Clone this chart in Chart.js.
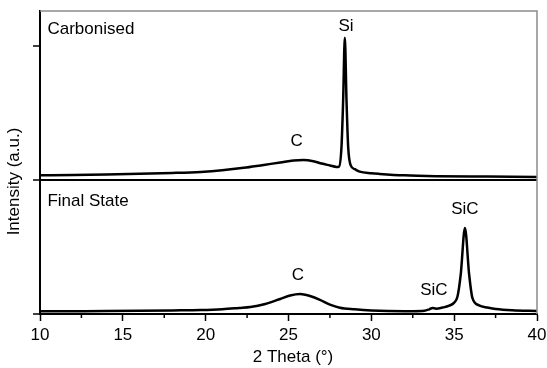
<!DOCTYPE html>
<html>
<head>
<meta charset="utf-8">
<script src="https://cdn.jsdelivr.net/npm/chart.js@4"></script>
<style>
  html, body { margin: 0; padding: 0; background: #fff; }
  #wrap { width: 547px; height: 368px; }
</style>
</head>
<body>
<div id="wrap"><canvas id="xrdChart"></canvas></div>
<script>
// 2 Theta positions and intensities (a.u.), top pattern offset by 1
const carbonisedTheta = [10, 12, 14, 16, 18, 19.7, 21, 22.3, 23.5, 24.5, 25.3, 25.9, 26.5, 27.0, 27.5, 27.9, 28.05, 28.2, 28.3, 28.4, 28.5, 28.6, 28.75, 29.0, 29.3, 30, 30.5, 32, 34, 37, 40];
const carbonisedInt = [1.034, 1.036, 1.040, 1.046, 1.052, 1.060, 1.072, 1.090, 1.112, 1.130, 1.145, 1.149, 1.140, 1.122, 1.108, 1.097, 1.10, 1.25, 1.60, 2.06, 1.60, 1.25, 1.11, 1.08, 1.062, 1.050, 1.045, 1.034, 1.028, 1.025, 1.022];

const finalTheta = [10, 12, 14, 16, 18, 19.7, 21, 22, 22.7, 23.6, 24.5, 25.1, 25.7, 26.3, 26.9, 27.5, 28.1, 29, 30, 31, 32.5, 33.2, 33.5, 33.7, 33.9, 34.3, 34.7, 35.0, 35.2, 35.4, 35.65, 35.9, 36.1, 36.5, 37.0, 37.5, 38.5, 40];
const finalInt = [0.020, 0.021, 0.022, 0.024, 0.027, 0.030, 0.036, 0.045, 0.052, 0.075, 0.112, 0.138, 0.149, 0.134, 0.106, 0.070, 0.047, 0.035, 0.026, 0.022, 0.021, 0.024, 0.035, 0.045, 0.040, 0.048, 0.062, 0.085, 0.13, 0.30, 0.642, 0.30, 0.12, 0.065, 0.048, 0.038, 0.028, 0.022];

const xTicks = [10, 15, 20, 25, 30, 35, 40];
const xMinorTicks = [12.5, 17.5, 22.5, 27.5, 32.5, 37.5];
const yTicks = [0, 1, 2];

// text labels placed at data coordinates (baseline)
const panelLabels = [
  { text: 'Carbonised', x: 10.45, y: 2.087, align: 'left' },
  { text: 'Final State', x: 10.45, y: 0.806, align: 'left' },
  { text: 'Si', x: 28.47, y: 2.112, align: 'center' },
  { text: 'C', x: 25.49, y: 1.254, align: 'center' },
  { text: 'C', x: 25.57, y: 0.254, align: 'center' },
  { text: 'SiC', x: 35.65, y: 0.744, align: 'center' },
  { text: 'SiC', x: 33.78, y: 0.142, align: 'center' }
];

const FONT = '"Liberation Sans", Arial, sans-serif';
const toPoints = (xs, ys) => xs.map((x, i) => ({ x: x, y: ys[i] }));

const extras = {
  id: 'extras',
  afterDraw(chart) {
    const { ctx, chartArea: a, scales: { x, y } } = chart;
    ctx.save();
    // top and right frame
    ctx.strokeStyle = '#8c8c8c';
    ctx.lineWidth = 1.5;
    ctx.beginPath();
    ctx.moveTo(a.left, a.top);
    ctx.lineTo(a.right, a.top);
    ctx.lineTo(a.right, a.bottom);
    ctx.stroke();
    // minor ticks
    ctx.strokeStyle = '#000';
    ctx.lineWidth = 1.5;
    xMinorTicks.forEach(v => {
      const px = x.getPixelForValue(v);
      ctx.beginPath();
      ctx.moveTo(px, a.bottom);
      ctx.lineTo(px, a.bottom + 4);
      ctx.stroke();
    });
    // labels
    ctx.fillStyle = '#000';
    ctx.font = '17px ' + FONT;
    ctx.textBaseline = 'alphabetic';
    panelLabels.forEach(l => {
      ctx.textAlign = l.align;
      ctx.fillText(l.text, x.getPixelForValue(l.x), y.getPixelForValue(l.y));
    });
    // axis titles
    ctx.textAlign = 'center';
    ctx.textBaseline = 'middle';
    ctx.fillText('2 Theta (\u00b0)', 293, 357);
    ctx.translate(14.5, 181.5);
    ctx.rotate(-Math.PI / 2);
    ctx.fillText('Intensity (a.u.)', 0, 0);
    ctx.restore();
  }
};

new Chart(document.getElementById('xrdChart'), {
  type: 'line',
  data: {
    datasets: [
      {
        label: 'Carbonised',
        data: toPoints(carbonisedTheta, carbonisedInt),
        borderColor: '#000',
        borderWidth: 2.5,
        pointRadius: 0,
        cubicInterpolationMode: 'monotone',
        fill: false
      },
      {
        label: 'Final State',
        data: toPoints(finalTheta, finalInt),
        borderColor: '#000',
        borderWidth: 2.5,
        pointRadius: 0,
        cubicInterpolationMode: 'monotone',
        fill: false
      }
    ]
  },
  options: {
    responsive: true,
    maintainAspectRatio: false,
    animation: false,
    layout: { padding: { top: 11, right: 0, left: 0, bottom: 0 } },
    plugins: {
      legend: { display: false },
      tooltip: { enabled: false }
    },
    scales: {
      x: {
        type: 'linear',
        min: 10,
        max: 40,
        afterBuildTicks: s => { s.ticks = xTicks.map(v => ({ value: v })); },
        afterFit: s => { s.height = 54; s.paddingRight = 10; s.paddingLeft = 0; },
        ticks: { color: '#000', font: { family: FONT, size: 17 }, padding: 4, maxRotation: 0 },
        grid: { drawOnChartArea: false, drawTicks: true, tickLength: 7, tickColor: '#000', tickWidth: 1.5 },
        border: { color: '#000', width: 2 }
      },
      y: {
        min: 0,
        max: 2.26,
        afterBuildTicks: s => { s.ticks = yTicks.map(v => ({ value: v })); },
        afterFit: s => { s.width = 40; },
        ticks: { display: false },
        grid: {
          color: c => (c.tick && c.tick.value === 1 ? '#000' : 'rgba(0,0,0,0)'),
          lineWidth: 2,
          drawTicks: true,
          tickLength: 7,
          tickColor: '#000',
          tickWidth: 1.5
        },
        border: { color: '#000', width: 2 }
      }
    }
  },
  plugins: [extras]
});
</script>
</body>
</html>
